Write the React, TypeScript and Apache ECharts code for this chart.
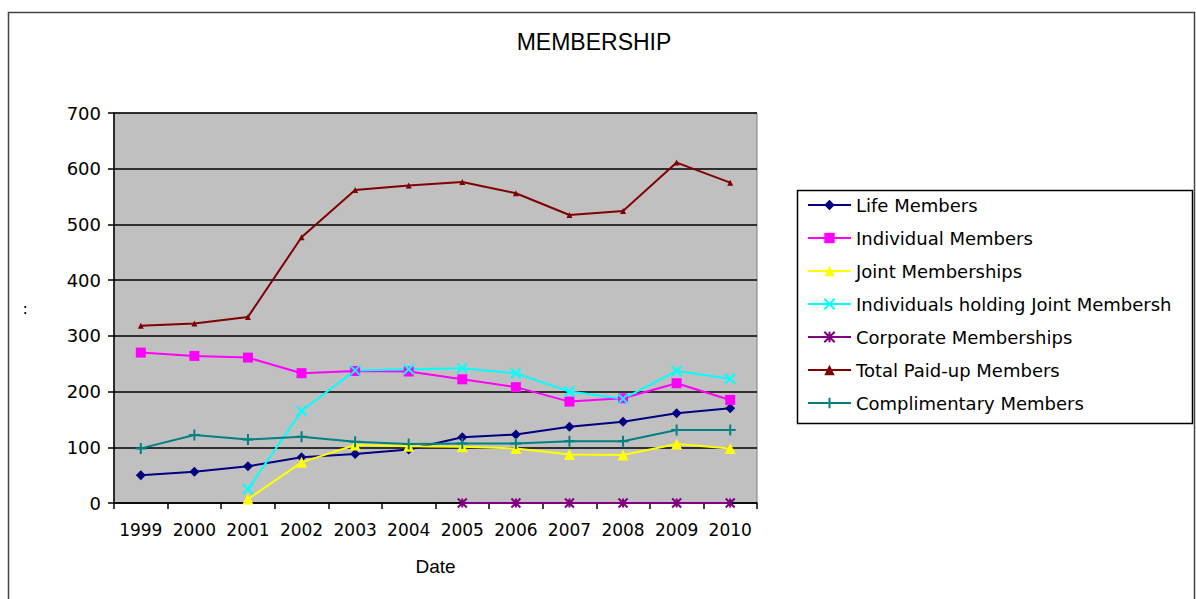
import React, { useEffect, useRef } from "react";
import * as echarts from "echarts";

const years = ["1999", "2000", "2001", "2002", "2003", "2004", "2005", "2006", "2007", "2008", "2009", "2010"];
const lifeMembers = [50, 56, 66, 82, 88, 96, 118, 123, 137, 146, 161, 170];
const individualMembers = [270, 264, 261, 233, 237, 236, 222, 208, 182, 188, 215, 185];
const jointMemberships = [null, null, 7, 73, 104, 102, 101, 98, 87, 86, 106, 98];
const individualsJoint = [null, null, 25, 165, 238, 240, 242, 233, 200, 187, 237, 223];
const corporate = [null, null, null, null, null, null, 0, 0, 0, 0, 0, 0];
const totalPaidUp = [318, 322, 334, 477, 562, 570, 576, 556, 517, 524, 611, 575];
const complimentary = [98, 122, 114, 119, 110, 106, 107, 107, 111, 111, 131, 131];
const yTicks = { min: 0, max: 700, interval: 100 };

const X_PATH = "path://M0,0L10,10M10,0L0,10";
const STAR_PATH = "path://M0,0L10,10M10,0L0,10M5,0L5,10";
const PLUS_PATH = "path://M5,0L5,10M0,5L10,5";

export default function App() {
  const ref = useRef<HTMLDivElement>(null);
  useEffect(() => {
    if (!ref.current) return;
    const chart = echarts.init(ref.current, null, { renderer: "svg" });
    const mk = (name: string, data: (number | null)[], color: string, symbol: string, size: number, stroke = false) => ({
      name,
      type: "line",
      data,
      symbol,
      symbolSize: size,
      showSymbol: true,
      connectNulls: false,
      lineStyle: { color, width: 2 },
      itemStyle: stroke
        ? { color, borderColor: color, borderWidth: 2 }
        : { color, borderWidth: 0 },
      emphasis: { disabled: true },
    });
    chart.setOption({
      animation: false,
      backgroundColor: "#ffffff",
      title: {
        text: "MEMBERSHIP",
        left: 594,
        top: 30,
        textAlign: "center",
        padding: 0,
        textStyle: { fontFamily: "Liberation Sans", fontSize: 23, fontWeight: "normal", color: "#000" },
      },
      graphic: [
        {
          type: "rect",
          shape: { x: 8.5, y: 12.5, width: 1186, height: 620 },
          style: { fill: "none", stroke: "#444", lineWidth: 1.5 },
          z: 100,
        },
        {
          type: "rect",
          shape: { x: 797.5, y: 190.5, width: 395, height: 233 },
          style: { fill: "#fff", stroke: "#000", lineWidth: 1.5 },
          z: 0,
        },
      ],
      legend: {
        orient: "vertical",
        left: 807,
        top: 195,
        padding: 0,
        itemWidth: 43,
        itemHeight: 13,
        itemGap: 13,
        z: 10,
        textStyle: {
          fontFamily: "DejaVu Sans",
          fontSize: 18,
          color: "#000",
          lineHeight: 20,
          width: 320,
          overflow: "truncate",
          ellipsis: "",
        },
      },
      grid: {
        left: 114,
        top: 113,
        width: 643,
        height: 390,
        show: true,
        backgroundColor: "#C0C0C0",
        borderColor: "#808080",
        borderWidth: 1,
      },
      xAxis: {
        type: "category",
        data: years,
        boundaryGap: true,
        name: "Date",
        nameLocation: "middle",
        nameGap: 54,
        nameTextStyle: { fontFamily: "Liberation Sans", fontSize: 19, color: "#000" },
        axisLine: { lineStyle: { color: "#000", width: 1.5 } },
        axisTick: { show: true, length: 6, lineStyle: { color: "#000", width: 1.5 } },
        axisLabel: { fontFamily: "DejaVu Sans", fontSize: 17, color: "#000", margin: 18, interval: 0 },
        splitLine: { show: false },
      },
      yAxis: {
        type: "value",
        min: yTicks.min,
        max: yTicks.max,
        interval: yTicks.interval,
        name: ":",
        nameLocation: "middle",
        nameRotate: 0,
        nameGap: 86,
        nameTextStyle: { fontFamily: "DejaVu Sans", fontSize: 16, color: "#000" },
        axisLine: { show: true, lineStyle: { color: "#000", width: 1.5 } },
        axisTick: { show: true, length: 6, lineStyle: { color: "#000", width: 1.5 } },
        axisLabel: { fontFamily: "DejaVu Sans", fontSize: 18, color: "#000", margin: 13 },
        splitLine: { show: true, lineStyle: { color: "#000", width: 1.5 } },
      },
      series: [
        mk("Life Members", lifeMembers, "#000080", "diamond", 10),
        mk("Individual Members", individualMembers, "#FF00FF", "rect", 10),
        mk("Joint Memberships", jointMemberships, "#FFFF00", "triangle", 11),
        mk("Individuals holding Joint Membership", individualsJoint, "#00FFFF", X_PATH, 10, true),
        mk("Corporate Memberships", corporate, "#800080", STAR_PATH, 9, true),
        mk("Total Paid-up Members", totalPaidUp, "#800000", "triangle", 6),
        mk("Complimentary Members", complimentary, "#008080", PLUS_PATH, 11, true),
      ],
    });
    return () => chart.dispose();
  }, []);
  return <div ref={ref} style={{ position: "fixed", left: 0, top: 0, width: 1196, height: 599 }} />;
}
